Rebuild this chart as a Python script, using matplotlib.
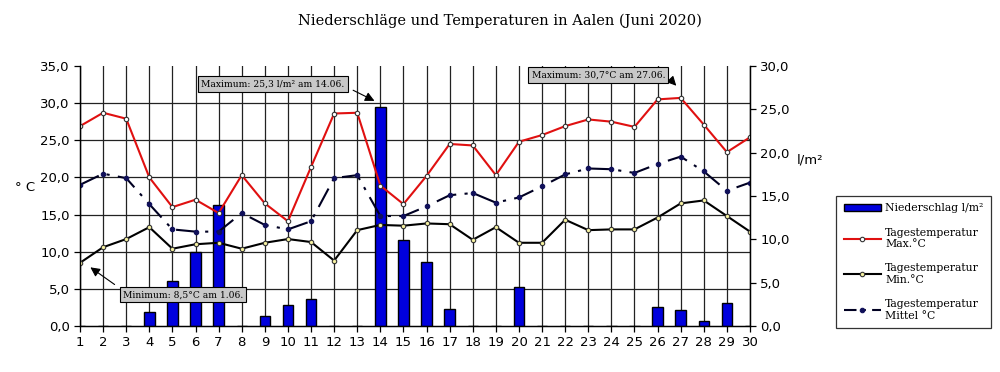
import numpy as np
import matplotlib
matplotlib.use("Agg")
import matplotlib.pyplot as plt
from matplotlib.patches import Patch
from matplotlib.lines import Line2D

tage = np.arange(1, 31)

niederschlag = [0, 0, 0, 1.6, 5.2, 8.5, 14.0, 0, 1.1, 2.4, 3.1, 0, 0, 25.3, 9.9,
                7.4, 2.0, 0, 0, 4.5, 0, 0, 0, 0, 0, 2.2, 1.8, 0.6, 2.6, 0]

t_max = [26.9, 28.7, 27.9, 20.0, 16.0, 17.0, 15.2, 20.3, 16.5, 14.1, 21.4, 28.6, 28.7, 18.9, 16.4,
         20.2, 24.5, 24.3, 20.3, 24.8, 25.7, 26.9, 27.8, 27.5, 26.8, 30.5, 30.7, 27.1, 23.4, 25.4]

t_min = [8.5, 10.6, 11.7, 13.3, 10.4, 11.0, 11.2, 10.4, 11.2, 11.7, 11.3, 8.8, 12.9, 13.6, 13.5,
         13.8, 13.7, 11.6, 13.3, 11.2, 11.2, 14.3, 12.9, 13.0, 13.0, 14.6, 16.5, 16.9, 14.8, 12.7]

t_mittel = [19.0, 20.5, 19.9, 16.4, 13.0, 12.7, 12.7, 15.2, 13.6, 13.0, 14.1, 19.9, 20.3, 14.8, 14.8,
            16.1, 17.6, 17.9, 16.6, 17.3, 18.8, 20.4, 21.2, 21.1, 20.6, 21.8, 22.8, 20.8, 18.2, 19.3]

temp_ticks = np.arange(0, 36, 5)
regen_ticks = np.arange(0, 31, 5)

def de(v):
    return f"{v:.1f}".replace(".", ",")

fig = plt.figure(figsize=(10, 3.72), dpi=100)
ax_t = fig.add_axes([0.08, 0.1237, 0.67, 0.699])
ax_r = ax_t.twinx()
ax_t.set_zorder(ax_r.get_zorder() + 1)
ax_t.patch.set_visible(False)

# Niederschlag (rechte Achse), Gitter liegt hinter den Balken
ax_r.bar(tage, niederschlag, width=0.45, color="#0000dd", edgecolor="black", linewidth=1.0, zorder=3)
ax_r.set_ylim(0, 30)
ax_r.set_yticks(regen_ticks)
ax_r.set_yticklabels([de(v) for v in regen_ticks])
ax_r.set_yticks(temp_ticks * 30 / 35, minor=True)
ax_r.tick_params(axis="y", which="minor", length=0)
ax_r.xaxis.set_visible(True)
ax_r.tick_params(axis="x", which="both", length=0, labelbottom=False, labeltop=False)
ax_r.grid(True, which="minor", axis="y", color="#222222", linewidth=0.9, zorder=0)
ax_r.grid(True, which="major", axis="x", color="#222222", linewidth=0.9, zorder=0)
ax_r.set_axisbelow(True)

mk = dict(marker="o", markersize=3.2, markeredgewidth=0.8)

# Temperaturen (linke Achse)
ax_t.plot(tage, t_max, color="#e01010", linewidth=1.5, markerfacecolor="white",
          markeredgecolor="#333333", **mk)
ax_t.plot(tage, t_min, color="black", linewidth=1.5, markerfacecolor="#f5f0a0",
          markeredgecolor="#333333", **mk)
ax_t.plot(tage, t_mittel, color="#000022", linewidth=1.5, dashes=(10, 4, 1.5, 4),
          markerfacecolor="#10105a", markeredgecolor="#10105a", **mk)

ax_t.set_xlim(1, 30)
ax_t.set_ylim(0, 35)
ax_t.set_xticks(tage)
ax_t.set_yticks(temp_ticks)
ax_t.set_yticklabels([de(v) for v in temp_ticks])

for a in (ax_t, ax_r):
    a.tick_params(labelsize=9.5, length=4, width=0.9, colors="black")
    a.spines["top"].set_visible(False)
    for s in a.spines.values():
        s.set_linewidth(0.9)
ax_r.tick_params(axis="x", which="both", length=0)
ax_t.tick_params(axis="x", pad=3)

fig.text(0.025, 0.497, "° C", fontsize=9.5, ha="center", va="center")
fig.text(0.81, 0.57, "l/m²", fontsize=9.5, ha="center", va="center")

fig.text(0.5, 0.945, "Niederschläge und Temperaturen in Aalen (Juni 2020)",
         family="DejaVu Serif", fontsize=10.5, ha="center", va="center")

box = dict(boxstyle="square,pad=0.35", facecolor="#c8c8c8", edgecolor="black", linewidth=0.8)

def pfeil(rel):
    return dict(arrowstyle="-|>", color="black", linewidth=0.8, mutation_scale=14,
                relpos=rel, shrinkA=4, shrinkB=1)

ax_r.annotate("Maximum: 25,3 l/m² am 14.06.", xy=(13.8, niederschlag[13] + 0.6),
              xytext=(6.25, 27.9), textcoords="data", fontsize=6.6, family="DejaVu Serif",
              ha="left", va="center", bbox=box, arrowprops=pfeil((1, 0.3)), zorder=10)
ax_t.annotate("Minimum: 8,5°C am 1.06.", xy=(1.4, 8.0),
              xytext=(2.85, 4.2), textcoords="data", fontsize=6.6, family="DejaVu Serif",
              ha="left", va="center", bbox=box, arrowprops=pfeil((0, 1)), zorder=10)
ax_t.annotate("Maximum: 30,7°C am 27.06.", xy=(26.85, 32.2),
              xytext=(20.55, 33.8), textcoords="data", fontsize=6.6, family="DejaVu Serif",
              ha="left", va="center", bbox=box, arrowprops=pfeil((1, 0.6)), zorder=10)

handles = [
    Patch(facecolor="#0000dd", edgecolor="black"),
    Line2D([], [], color="#e01010", linewidth=1.5, markerfacecolor="white",
           markeredgecolor="#333333", **mk),
    Line2D([], [], color="black", linewidth=1.5, markerfacecolor="#f5f0a0",
           markeredgecolor="#333333", **mk),
    Line2D([], [], color="#000022", linewidth=1.5, dashes=(6, 3, 1.5, 3),
           markerfacecolor="#10105a", markeredgecolor="#10105a", **mk),
]
labels = ["Niederschlag l/m²", "Tagestemperatur\nMax.°C", "Tagestemperatur\nMin.°C",
          "Tagestemperatur\nMittel °C"]
leg = fig.legend(handles, labels, loc="upper left", bbox_to_anchor=(0.831, 0.488),
                 frameon=True, fancybox=False, edgecolor="black",
                 prop={"family": "DejaVu Serif", "size": 7.8},
                 handlelength=3.4, handletextpad=0.4, labelspacing=1.3, borderpad=0.7)
leg.get_frame().set_linewidth(0.9)

fig.savefig("out.png", dpi=100)
